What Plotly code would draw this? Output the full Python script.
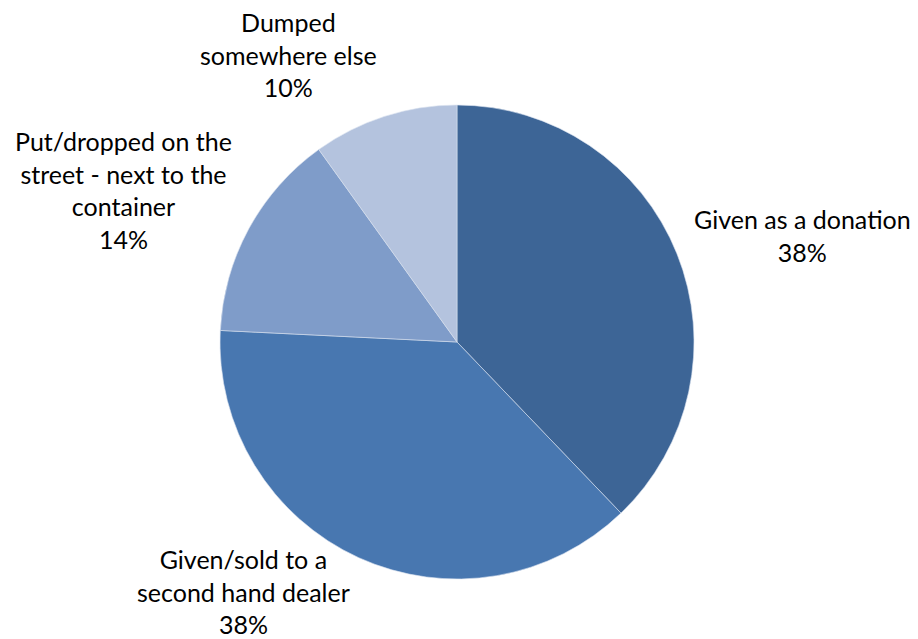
import math
import plotly.graph_objects as go

# ---- data ----
categories = [
    "Given as a donation",
    "Given/sold to a second hand dealer",
    "Put/dropped on the street - next to the container",
    "Dumped somewhere else",
]
label_lines = [
    ["Given as a donation"],
    ["Given/sold to a", "second hand dealer"],
    ["Put/dropped on the", "street - next to the", "container"],
    ["Dumped", "somewhere else"],
]
values = [37.8, 37.9, 14.3, 9.9]
colors = ["#3D6596", "#4877B0", "#7F9CC9", "#B4C3DE"]

# ---- layout settings ----
W, H = 918, 639
dom_x = [220 / W, 694 / W]
dom_y = [1 - 579 / H, 1 - 105 / H]
FONT = "Lato"
FS = 25
LINE_H = 1.3 * FS

fig = go.Figure(
    go.Pie(
        labels=categories,
        values=values,
        sort=False,
        direction="clockwise",
        rotation=0,
        textinfo="none",
        hoverinfo="label+percent",
        marker=dict(colors=colors, line=dict(color="#D8E0EE", width=0.6)),
        domain=dict(x=dom_x, y=dom_y),
        showlegend=False,
    )
)

# label placement derived from slice mid-angles
cx = (dom_x[0] + dom_x[1]) / 2 * W
cy = (1 - (dom_y[0] + dom_y[1]) / 2) * H
R = min((dom_x[1] - dom_x[0]) * W, (dom_y[1] - dom_y[0]) * H) / 2
total = sum(values)
cum = 0.0
annotations = []
for lines, v in zip(label_lines, values):
    mid = (cum + v / 2) / total * 2 * math.pi
    cum += v
    s, c = math.sin(mid), math.cos(mid)
    r = R * 1.07
    ax = cx + r * s
    ay = cy - r * c
    n = len(lines) + 1
    h = n * LINE_H
    ycen = ay - c * h / 2
    ycen = max(h / 2 - 4, min(H - h / 2 + 1, ycen))
    if s > 0.1:
        xa = "left"
    elif s < -0.1:
        xa = "right"
    else:
        xa = "center"
    pct = round(v / total * 100)
    text = "<br>".join(lines + [f"{pct}%"])
    annotations.append(
        dict(
            x=ax / W,
            y=1 - ycen / H,
            xref="paper",
            yref="paper",
            xanchor=xa,
            yanchor="middle",
            align="center",
            showarrow=False,
            text=text,
            font=dict(family=FONT, size=FS, color="#000000"),
        )
    )

fig.update_layout(
    width=W,
    height=H,
    margin=dict(l=0, r=0, t=0, b=0),
    paper_bgcolor="white",
    plot_bgcolor="white",
    annotations=annotations,
)

fig.write_html(
    "out.html",
    config={"displayModeBar": False},
    post_script="document.body.style.margin='0';document.body.style.overflow='hidden';",
)
